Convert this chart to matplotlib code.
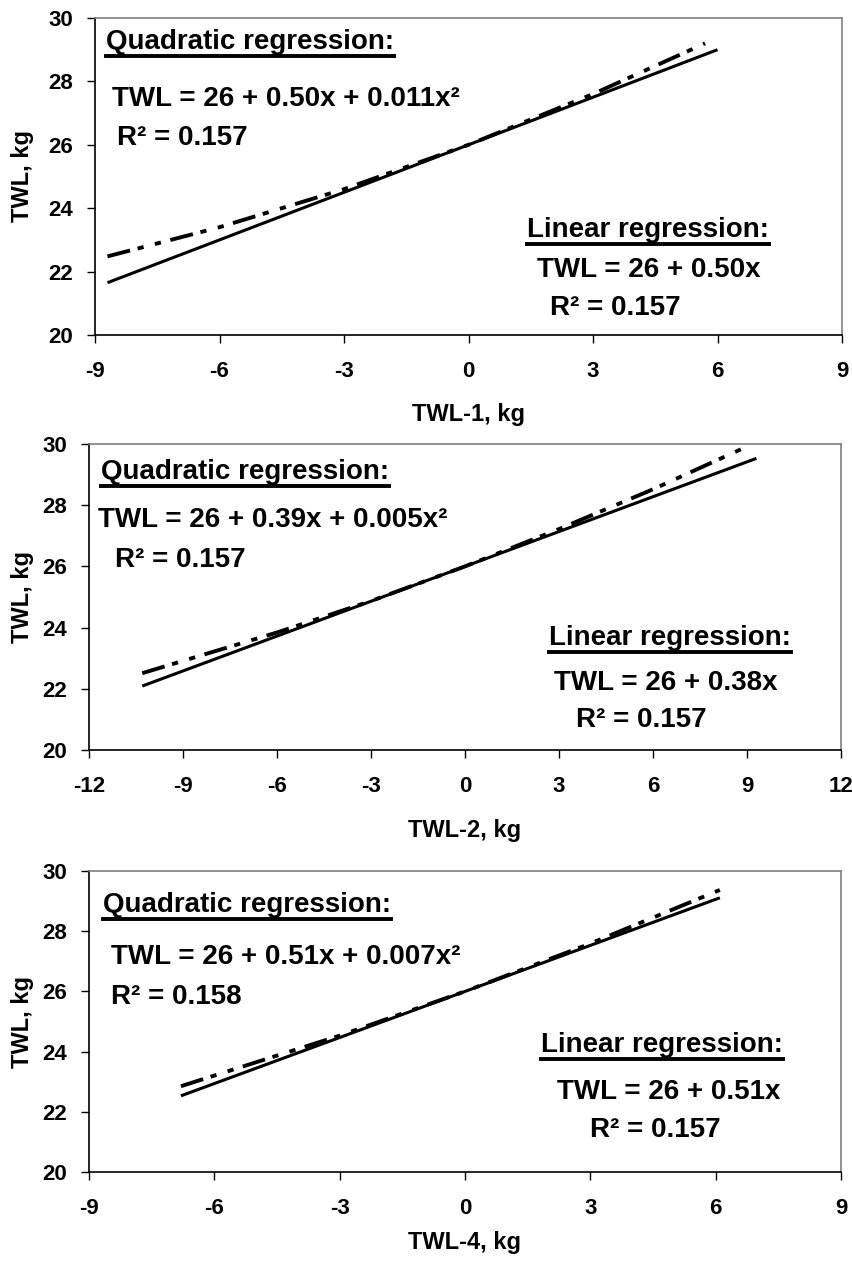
import matplotlib.pyplot as plt
from matplotlib.lines import Line2D

plt.rcParams.update({
    'font.family': ['Liberation Sans', 'DejaVu Sans'],
    'font.weight': 'bold',
    'font.size': 16,
})

# regression lines (x in kg, TWL in kg)
lin1_x = [-8.7, 6.0]
lin1_y = [21.65, 29.0]
quad1_x = [-8.7, -6.0, -3.0, 0.0, 3.0, 5.7]
quad1_y = [22.48, 23.40, 24.60, 26.00, 27.60, 29.20]

lin2_x = [-10.3, 9.3]
lin2_y = [22.09, 29.53]
quad2_x = [-10.3, -6.0, -3.0, 0.0, 3.0, 6.0, 8.9]
quad2_y = [22.51, 23.84, 24.87, 26.00, 27.22, 28.52, 29.87]

lin4_x = [-6.8, 6.1]
lin4_y = [22.53, 29.11]
quad4_x = [-6.8, -3.0, 0.0, 3.0, 6.1]
quad4_y = [22.85, 24.53, 26.00, 27.59, 29.37]

x_ticks1 = [-9, -6, -3, 0, 3, 6, 9]
x_ticks2 = [-12, -9, -6, -3, 0, 3, 6, 9, 12]
x_ticks4 = [-9, -6, -3, 0, 3, 6, 9]
y_ticks = [20, 22, 24, 26, 28, 30]

panels = [
    dict(rect=[95/852, 1-335/1266, 747/852, 317/1266],
         lx=lin1_x, ly=lin1_y, qx=quad1_x, qy=quad1_y, xt=x_ticks1,
         xlabel='TWL-1, kg', xlab_y=415,
         quad_eq='TWL = 26 + 0.50x + 0.011x²', quad_r2='0.157',
         lin_eq='TWL = 26 + 0.50x', lin_r2='0.157',
         pos=[(106, 42), (112, 99), (117, 138), (527, 230), (537, 270), (550, 308)]),
    dict(rect=[89/852, 1-750/1266, 752/852, 306/1266],
         lx=lin2_x, ly=lin2_y, qx=quad2_x, qy=quad2_y, xt=x_ticks2,
         xlabel='TWL-2, kg', xlab_y=830,
         quad_eq='TWL = 26 + 0.39x + 0.005x²', quad_r2='0.157',
         lin_eq='TWL = 26 + 0.38x', lin_r2='0.157',
         pos=[(101, 472), (98, 520), (115, 560), (549, 638), (554, 683), (576, 720)]),
    dict(rect=[89/852, 1-1172/1266, 752/852, 301/1266],
         lx=lin4_x, ly=lin4_y, qx=quad4_x, qy=quad4_y, xt=x_ticks4,
         xlabel='TWL-4, kg', xlab_y=1243,
         quad_eq='TWL = 26 + 0.51x + 0.007x²', quad_r2='0.158',
         lin_eq='TWL = 26 + 0.51x', lin_r2='0.157',
         pos=[(103, 905), (111, 957), (111, 997), (541, 1045), (557, 1092), (590, 1130)]),
]

W, H = 852, 1266
fig = plt.figure(figsize=(W/100, H/100), dpi=100)

underlined = []
for p in panels:
    ax = fig.add_axes(p['rect'])
    ax.plot(p['lx'], p['ly'], color='black', lw=2.2, solid_capstyle='butt')
    ax.plot(p['qx'], p['qy'], color='black', lw=2.8, dashes=[6, 2, 1.6, 3, 1.6, 2.5])
    ax.set_xlim(p['xt'][0], p['xt'][-1])
    ax.set_ylim(20, 30)
    ax.set_xticks(p['xt'])
    ax.set_yticks(y_ticks)
    ax.set_xticklabels([str(t) for t in p['xt']])
    ax.tick_params(direction='out', length=6, width=1)
    ax.tick_params(axis='x', pad=13)
    ax.tick_params(axis='y', pad=10)
    for s in ['top', 'right']:
        ax.spines[s].set_color('#808080')
    for s in ['left', 'bottom']:
        ax.spines[s].set_color('black')
    for s in ax.spines.values():
        s.set_linewidth(1.2)

    fig.text(p['rect'][0] + p['rect'][2] / 2, 1 - p['xlab_y'] / H,
             p['xlabel'], ha='center', va='center', fontsize=17)
    fig.text(23 / W, p['rect'][1] + p['rect'][3] / 2, 'TWL, kg', rotation=90,
             ha='center', va='center', fontsize=17)

    texts = ['Quadratic regression:', p['quad_eq'], 'R² = ' + p['quad_r2'],
             'Linear regression:', p['lin_eq'], 'R² = ' + p['lin_r2']]
    for i, (t, (px, py)) in enumerate(zip(texts, p['pos'])):
        txt = fig.text(px / W, 1 - py / H, t, ha='left', va='center', fontsize=20)
        if i in (0, 3):
            underlined.append(txt)

fig.canvas.draw()
renderer = fig.canvas.get_renderer()
for txt in underlined:
    bb = txt.get_window_extent(renderer)
    y = bb.y0 - 1
    fig.add_artist(Line2D([bb.x0 / W, bb.x1 / W], [y / H, y / H],
                          transform=fig.transFigure, color='black', lw=2.8))

fig.savefig('out.png', dpi=100)
